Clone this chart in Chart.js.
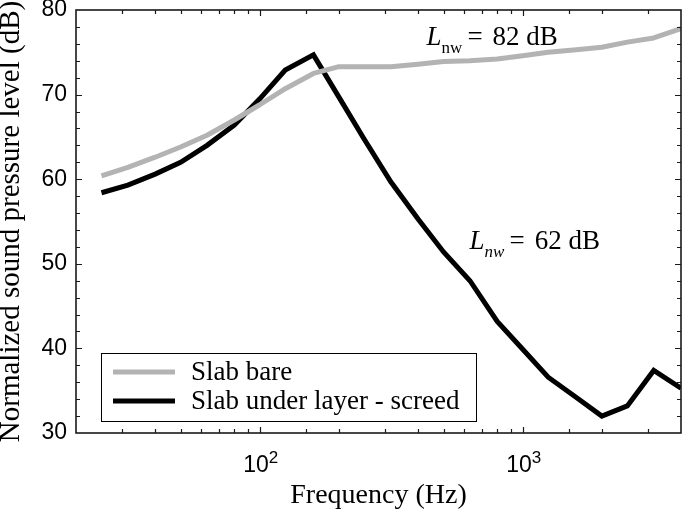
<!DOCTYPE html>
<html>
<head>
<meta charset="utf-8">
<script src="https://cdn.jsdelivr.net/npm/chart.js@4.4.1/dist/chart.umd.min.js"></script>
<style>
  html, body { margin: 0; padding: 0; background: #fff; }
  canvas { display: block; }
</style>
</head>
<body>
<canvas id="c" width="685" height="512"></canvas>
<script>
// ---- data (third-octave band centre frequencies, Hz) ----
const frequencies = [25, 31.5, 40, 50, 63, 80, 100, 125, 160, 200, 250, 315, 400, 500, 630, 800, 1000, 1250, 1600, 2000, 2500, 3150, 4000];
const slabBare = [60.4, 61.4, 62.6, 63.8, 65.2, 67.0, 68.8, 70.7, 72.5, 73.3, 73.3, 73.3, 73.6, 73.9, 74.0, 74.2, 74.6, 75.0, 75.3, 75.6, 76.2, 76.7, 77.8];
const slabScreed = [58.4, 59.3, 60.6, 62.0, 64.0, 66.4, 69.5, 72.9, 74.7, 69.7, 64.7, 59.7, 55.3, 51.4, 48.0, 43.2, 39.9, 36.6, 34.2, 32.0, 33.2, 37.4, 35.3];
const seriesLabels = ['Slab bare', 'Slab under layer - screed'];
// decade tick labels: value -> [base, exponent]
const xTickValues = [100, 1000];
const xTickBase = ['10', '10'];
const xTickExp = ['2', '3'];
const yTickLabels = [30, 40, 50, 60, 70, 80];
const xTitle = 'Frequency (Hz)';
const yTitle = 'Normalized sound pressure level (dB)';
// annotation: value text and anchor in data units (frequency, dB)
const annotationValues = ['82 dB', '62 dB'];
const annotationFreq = [431, 628];
const annotationDb = [75.9, 51.7];

const SERIF = '"Liberation Serif", "Times New Roman", serif';
const SANS = '"Liberation Sans", Arial, sans-serif';

const axesPlugin = {
  id: 'axesBox',
  afterDraw(chart) {
    const { ctx, chartArea: { left, right, top, bottom }, scales: { x, y } } = chart;
    ctx.save();
    ctx.strokeStyle = '#1a1a1a';
    ctx.lineWidth = 1.2;
    ctx.beginPath();
    x.ticks.forEach(t => {
      if (t.value <= x.min || t.value >= x.max) return;
      const px = Math.round(x.getPixelForValue(t.value)) + 0.5;
      const len = xTickValues.includes(t.value) ? 6 : 4;
      ctx.moveTo(px, bottom); ctx.lineTo(px, bottom - len);
      ctx.moveTo(px, top); ctx.lineTo(px, top + len);
    });
    y.ticks.forEach(t => {
      if (t.value <= y.min || t.value >= y.max) return;
      const py = Math.round(y.getPixelForValue(t.value)) + 0.5;
      const len = (t.value % 10 === 0) ? 6 : 4;
      ctx.moveTo(left, py); ctx.lineTo(left + len, py);
      ctx.moveTo(right, py); ctx.lineTo(right - len, py);
    });
    ctx.stroke();
    ctx.lineWidth = 1.6;
    ctx.strokeRect(left, top, right - left, bottom - top);

    // decade labels with superscript exponent
    ctx.fillStyle = '#000';
    ctx.textBaseline = 'alphabetic';
    ctx.textAlign = 'left';
    xTickValues.forEach((v, i) => {
      const px = x.getPixelForValue(v);
      ctx.font = '23px ' + SANS;
      const wb = ctx.measureText(xTickBase[i]).width;
      ctx.font = '17px ' + SANS;
      const we = ctx.measureText(xTickExp[i]).width;
      const start = px - (wb + we) / 2 + 1;
      ctx.font = '23px ' + SANS;
      ctx.fillText(xTickBase[i], start, bottom + 39);
      ctx.font = '17px ' + SANS;
      ctx.fillText(xTickExp[i], start + wb, bottom + 30);
    });
    ctx.restore();
  }
};

const annotationPlugin = {
  id: 'lnwLabels',
  afterDatasetsDraw(chart) {
    const { ctx, scales: { x, y } } = chart;
    ctx.save();
    ctx.fillStyle = '#000';
    ctx.textBaseline = 'alphabetic';
    ctx.textAlign = 'left';
    annotationValues.forEach((val, i) => {
      let px = x.getPixelForValue(annotationFreq[i]);
      const py = y.getPixelForValue(annotationDb[i]);
      ctx.font = 'italic 27px ' + SERIF;
      ctx.fillText('L', px, py);
      px += ctx.measureText('L').width;
      ctx.font = (i === 0 ? '' : 'italic ') + '17px ' + SERIF;
      ctx.fillText('nw', px, py + 8);
      px += ctx.measureText('nw').width + 5;
      ctx.font = '27px ' + SERIF;
      ctx.fillText('=', px, py);
      px += ctx.measureText('=').width + 10;
      ctx.fillText(val, px, py);
    });
    ctx.restore();
  }
};

const legendPlugin = {
  id: 'boxLegend',
  afterDraw(chart) {
    const { ctx } = chart;
    const bx = 101, by = 353, bw = 375, bh = 68;
    ctx.save();
    ctx.fillStyle = '#fff';
    ctx.fillRect(bx, by, bw, bh);
    ctx.strokeStyle = '#000';
    ctx.lineWidth = 1;
    ctx.strokeRect(bx + 0.5, by + 0.5, bw, bh);
    chart.data.datasets.forEach((ds, i) => {
      const cy = 372 + i * 29;
      ctx.strokeStyle = ds.borderColor;
      ctx.lineWidth = 5;
      ctx.beginPath();
      ctx.moveTo(113, cy); ctx.lineTo(175, cy);
      ctx.stroke();
      ctx.fillStyle = '#000';
      ctx.font = '27px ' + SERIF;
      ctx.textBaseline = 'alphabetic';
      ctx.fillText(ds.label, 191, cy + 8);
    });
    ctx.restore();
  }
};

new Chart(document.getElementById('c'), {
  type: 'line',
  data: {
    datasets: [
      {
        label: seriesLabels[0],
        data: frequencies.map((f, i) => ({ x: f, y: slabBare[i] })),
        borderColor: '#b3b3b3',
        borderWidth: 5,
        pointRadius: 0,
        tension: 0,
        borderJoinStyle: 'round',
        fill: false
      },
      {
        label: seriesLabels[1],
        data: frequencies.map((f, i) => ({ x: f, y: slabScreed[i] })),
        borderColor: '#000000',
        borderWidth: 5,
        pointRadius: 0,
        tension: 0,
        borderJoinStyle: 'miter',
        fill: false
      }
    ]
  },
  options: {
    responsive: false,
    animation: false,
    devicePixelRatio: 1,
    layout: { padding: { top: 10, right: 4, left: 0, bottom: 0 } },
    plugins: { legend: { display: false }, tooltip: { enabled: false } },
    scales: {
      x: {
        type: 'logarithmic',
        position: 'bottom',
        min: 20,
        max: 4000,
        border: { display: false },
        grid: { display: true, color: 'rgba(0,0,0,0)', drawOnChartArea: false, drawTicks: false, tickLength: 0 },
        ticks: {
          autoSkip: false,
          maxRotation: 0,
          padding: 19,
          color: '#000',
          font: { family: SANS, size: 23 },
          callback: () => ''
        },
        title: { display: true, text: xTitle, color: '#000', font: { family: SERIF, size: 28 }, padding: { top: 0, bottom: 0 } },
        afterFit(s) { s.height = 79; s.paddingLeft = 0; s.paddingRight = 0; }
      },
      y: {
        type: 'linear',
        position: 'left',
        min: 30,
        max: 80,
        border: { display: false },
        grid: { display: true, color: 'rgba(0,0,0,0)', drawOnChartArea: false, drawTicks: false, tickLength: 0 },
        ticks: {
          stepSize: 2,
          autoSkip: false,
          padding: 9,
          color: '#000',
          font: { family: SANS, size: 23 },
          callback: (v) => yTickLabels.includes(v) ? String(v) : ''
        },
        title: { display: true, text: yTitle, color: '#000', font: { family: SERIF, size: 29, lineHeight: 0.8 }, padding: { top: 0, bottom: 0 } },
        afterFit(s) { s.width = 76; s.paddingTop = 0; s.paddingBottom = 0; }
      }
    }
  },
  plugins: [annotationPlugin, legendPlugin, axesPlugin]
});
</script>
</body>
</html>
